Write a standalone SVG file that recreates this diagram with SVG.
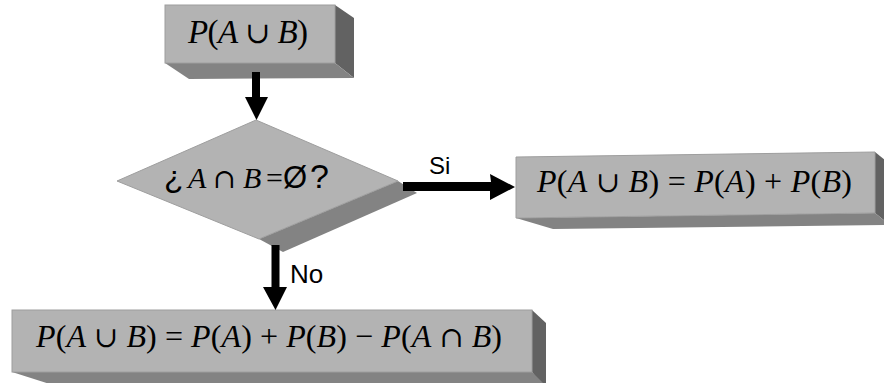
<svg xmlns="http://www.w3.org/2000/svg" width="884" height="383" viewBox="0 0 884 383">
<style>
.front{fill:#b3b3b3;stroke:#9e9e9e;stroke-width:1}
.bottom{fill:#838383}
.side{fill:#626262}
.math{font-family:"Liberation Serif","Times New Roman",serif;fill:#000}
.it{font-style:italic}
.cup{font-family:"DejaVu Serif",serif;font-size:0.9em}
.sans{font-family:"Liberation Sans",Arial,sans-serif;fill:#000}
.arrow{fill:#000}
</style>
<rect width="884" height="383" fill="#fff"/>
<g id="start">
<polygon class="side" points="335,5 354,18 354,78 335,63"/>
<polygon class="bottom" points="165,63 335,63 354,78 189,79"/>
<rect class="front" x="165" y="5" width="170" height="58"/>
<text class="math" x="188" y="43" font-size="33" textLength="120" lengthAdjust="spacing"><tspan class="it">P</tspan>(<tspan class="it">A</tspan> <tspan class="cup">∪</tspan> <tspan class="it">B</tspan>)</text>
</g>
<g id="decision">
<polygon class="bottom" points="398,181 417,193 283,252 259,239"/>
<polygon class="front" points="256,120 398,181 259,239 117,181"/>
<text font-size="30" y="188"><tspan class="sans" x="164" font-size="32">¿</tspan><tspan class="math it" x="188">A</tspan><tspan class="math cup" x="213">∩</tspan><tspan class="math it" x="243">B</tspan><tspan class="math" x="266">=</tspan><tspan class="sans" x="283" font-size="31">Ø</tspan><tspan class="sans" x="310" font-size="34">?</tspan></text>
</g>
<g id="disjoint">
<polygon class="side" points="875,152 890,164 890,225 875,213"/>
<polygon class="bottom" points="516,218 875,213 890,225 553,229"/>
<polygon class="front" points="516,157 875,152 875,213 516,218"/>
<text class="math" x="537" y="192" font-size="32" textLength="315" lengthAdjust="spacing"><tspan class="it">P</tspan>(<tspan class="it">A</tspan> <tspan class="cup">∪</tspan> <tspan class="it">B</tspan>) = <tspan class="it">P</tspan>(<tspan class="it">A</tspan>) + <tspan class="it">P</tspan>(<tspan class="it">B</tspan>)</text>
</g>
<g id="general">
<polygon class="side" points="532,310 546,323 546,390 532,372"/>
<polygon class="bottom" points="12,372 532,372 546,386 56,386"/>
<rect class="front" x="12" y="310" width="520" height="62"/>
<text class="math" x="36" y="347" font-size="32" textLength="466" lengthAdjust="spacing"><tspan class="it">P</tspan>(<tspan class="it">A</tspan> <tspan class="cup">∪</tspan> <tspan class="it">B</tspan>) = <tspan class="it">P</tspan>(<tspan class="it">A</tspan>) + <tspan class="it">P</tspan>(<tspan class="it">B</tspan>) − <tspan class="it">P</tspan>(<tspan class="it">A</tspan> <tspan class="cup">∩</tspan> <tspan class="it">B</tspan>)</text>
</g>
<g id="connectors">
<polygon class="arrow" points="252,72 260,72 260,97 268,97 256.5,120 245,97 252,97"/>
<polygon class="arrow" points="403,182 491,182 490,174 515,187 490,200 490,191 403,191"/>
<polygon class="arrow" points="271.5,245 279.5,245 279.5,287 287,287 275.5,310 263,287 271.5,287"/>
<text class="sans" x="429" y="174" font-size="24">Si</text>
<text class="sans" x="290" y="283" font-size="26">No</text>
</g>
</svg>
